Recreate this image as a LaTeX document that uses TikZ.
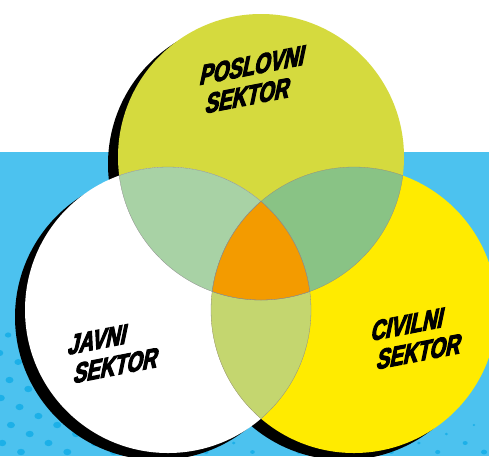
\documentclass[tikz,border=0pt]{standalone}
\usepackage{fontspec}
\usepackage{tikz}
\usetikzlibrary{positioning}
\newfontfamily\sectorfont{Liberation Sans}[UprightFont={* Bold},
	UprightFeatures={FakeSlant=0.42, FakeBold=4, FakeStretch=0.76}]

\definecolor{skyblue}{RGB}{76,194,239}
\definecolor{dotblue}{RGB}{28,176,232}
\definecolor{limegreen}{RGB}{213,218,62}
\definecolor{signyellow}{RGB}{255,235,0}
\definecolor{mintgreen}{RGB}{168,210,165}
\definecolor{leafgreen}{RGB}{137,195,133}
\definecolor{palelime}{RGB}{196,214,111}
\definecolor{deeporange}{RGB}{243,155,0}

\begin{document}
\begin{tikzpicture}[x=1pt, y=-1pt]
	\tikzstyle{shadow}=[fill=black]
	\tikzstyle{seam}=[draw=black!45, line width=0.3pt]
	\tikzstyle{sector}=[font=\sectorfont\fontsize{27}{29}\selectfont,
		align=left, inner sep=0pt, rotate=11]
	\useasboundingbox (0,0) rectangle (489,456);
	% % Background
	\fill[white] (0,0) rectangle (489,152);
	\fill[skyblue] (0,152) rectangle (489,456);
	% halftone dots
	\foreach \i in {0,...,17}
	\foreach \j in {-8,...,10} {
		\pgfmathsetmacro\dotx{21+27.5*\i+46.3*\j}
		\pgfmathsetmacro\doty{452-9*\i}
		\pgfmathsetmacro\dotd{max(\doty-290-0.9*\dotx, \doty-425+0.25*(\dotx-470), \doty-438)}
		\pgfmathparse{and(\dotd>0, and(\dotx>-6, \dotx<495)) ? 1 : 0}
		\ifdim\pgfmathresult pt>0.5pt
			\pgfmathsetmacro\dotr{min(4, 1+2*sqrt(\dotd/30))}
			\pgfmathsetmacro\dotry{0.8*\dotr}
			\fill[dotblue] (\dotx,\doty) ellipse[x radius=\dotr pt, y radius=\dotry pt];
		\fi
	}
	% % Circles
	\coordinate (poslovni) at (261,157);
	\coordinate (javni) at (168,310);
	\coordinate (civilni) at (354,310);
	% shadows
	\foreach \c in {poslovni,javni,civilni}
		\fill[shadow] ([shift={(-10,7)}]\c) circle[radius=143pt];
	% sectors
	\fill[limegreen] (poslovni) circle[radius=143pt];
	\fill[white] (javni) circle[radius=143pt];
	\fill[signyellow] (civilni) circle[radius=143pt];
	% overlaps
	\begin{scope}
		\clip (poslovni) circle[radius=143pt];
		\fill[mintgreen] (javni) circle[radius=143pt];
		\fill[leafgreen] (civilni) circle[radius=143pt];
	\end{scope}
	\begin{scope}
		\clip (javni) circle[radius=143pt];
		\fill[palelime] (civilni) circle[radius=143pt];
	\end{scope}
	\begin{scope}
		\clip (poslovni) circle[radius=143pt];
		\clip (javni) circle[radius=143pt];
		\fill[deeporange] (civilni) circle[radius=143pt];
	\end{scope}
	% seams
	\begin{scope}
		\clip (poslovni) circle[radius=143pt];
		\draw[seam] (javni) circle[radius=143pt] (civilni) circle[radius=143pt];
	\end{scope}
	\begin{scope}
		\clip (javni) circle[radius=143pt];
		\draw[seam] (poslovni) circle[radius=143pt] (civilni) circle[radius=143pt];
	\end{scope}
	\begin{scope}
		\clip (civilni) circle[radius=143pt];
		\draw[seam] (poslovni) circle[radius=143pt] (javni) circle[radius=143pt];
	\end{scope}
	% % Labels
	\node[sector] (poslovnilabel) at (252,80) {POSLOVNI\\SEKTOR};
	\node[sector] (javnilabel) at (110,352) {JAVNI\\SEKTOR};
	\node[sector] (civilnilabel) at (413,338) {CIVILNI\\SEKTOR};
\end{tikzpicture}
\end{document}
